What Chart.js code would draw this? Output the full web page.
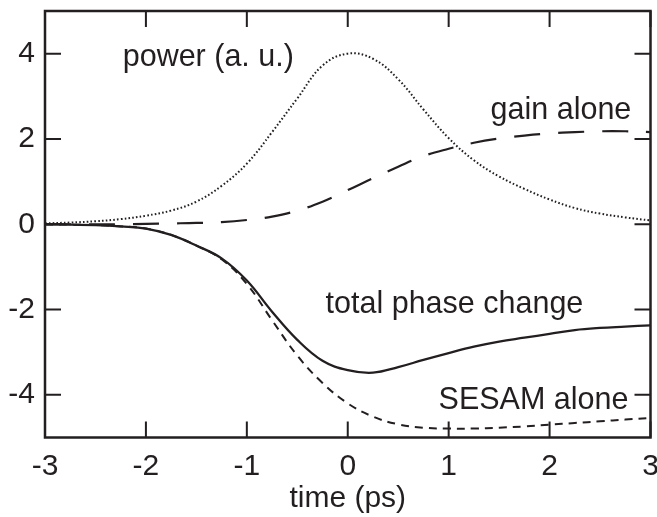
<!DOCTYPE html>
<html>
<head>
<meta charset="utf-8">
<script src="https://cdn.jsdelivr.net/npm/chart.js@4/dist/chart.umd.min.js"></script>
<style>
  html, body { margin: 0; padding: 0; background: #fff; }
  #wrap { width: 657px; height: 517px; position: relative; }
</style>
</head>
<body>
<div id="wrap"><canvas id="c" width="657" height="517"></canvas></div>
<script>
// ---- data ----
const times = [-3, -2.75, -2.5, -2.25, -2, -1.75, -1.5, -1.25, -1, -0.75, -0.5, -0.25, 0, 0.25, 0.5, 0.75, 1, 1.25, 1.5, 1.75, 2, 2.25, 2.5, 2.75, 3];
const power = [0.02, 0.04, 0.07, 0.12, 0.2, 0.32, 0.53, 0.9, 1.42, 2.16, 2.95, 3.72, 4.0, 3.88, 3.4, 2.69, 2.02, 1.5, 1.12, 0.83, 0.58, 0.38, 0.25, 0.16, 0.09];
const gainAlone = [0, 0, 0, 0, 0.01, 0.02, 0.03, 0.05, 0.1, 0.18, 0.32, 0.53, 0.8, 1.08, 1.35, 1.6, 1.77, 1.91, 2.01, 2.08, 2.13, 2.16, 2.18, 2.18, 2.16];
const totalPhase = [0, -0.01, -0.02, -0.05, -0.1, -0.25, -0.5, -0.8, -1.32, -2.05, -2.71, -3.2, -3.42, -3.48, -3.35, -3.18, -3.02, -2.87, -2.75, -2.66, -2.57, -2.48, -2.43, -2.4, -2.37];
const sesamAlone = [0, -0.01, -0.02, -0.05, -0.1, -0.25, -0.5, -0.82, -1.4, -2.25, -3.08, -3.72, -4.2, -4.51, -4.69, -4.77, -4.79, -4.79, -4.77, -4.74, -4.7, -4.66, -4.62, -4.58, -4.54];
const xTicks = [-3, -2, -1, 0, 1, 2, 3];
const yTicks = [-4, -2, 0, 2, 4];
const labels = ["power (a. u.)", "gain alone", "total phase change", "SESAM alone"];
const labelAt = [[-2.23, 3.71], [1.415, 2.46], [-0.22, -2.08], [0.9, -4.33]];

const INK = '#231f20';
const FONT = 'Liberation Sans, Arial, Helvetica, sans-serif';

function pts(vals) { return times.map((t, i) => ({ x: t, y: vals[i] })); }

const framePlugin = {
  id: 'frame',
  afterDatasetsDraw(chart) {
    const { ctx, chartArea: a, scales: { x, y } } = chart;
    ctx.save();
    ctx.strokeStyle = INK;
    ctx.lineWidth = 2.5;
    ctx.strokeRect(a.left, a.top, a.right - a.left, a.bottom - a.top);
    ctx.lineWidth = 2;
    const tl = 16;
    ctx.beginPath();
    xTicks.forEach(v => {
      const px = x.getPixelForValue(v);
      ctx.moveTo(px, a.bottom); ctx.lineTo(px, a.bottom - tl);
      ctx.moveTo(px, a.top); ctx.lineTo(px, a.top + tl);
    });
    yTicks.forEach(v => {
      const py = y.getPixelForValue(v);
      ctx.moveTo(a.left, py); ctx.lineTo(a.left + tl, py);
      ctx.moveTo(a.right, py); ctx.lineTo(a.right - tl, py);
    });
    ctx.stroke();
    // annotations
    ctx.fillStyle = INK;
    ctx.font = '30.5px ' + FONT;
    ctx.textAlign = 'left';
    ctx.textBaseline = 'alphabetic';
    labels.forEach((s, i) => {
      ctx.fillText(s, x.getPixelForValue(labelAt[i][0]), y.getPixelForValue(labelAt[i][1]));
    });
    ctx.restore();
  }
};

new Chart(document.getElementById('c'), {
  type: 'line',
  data: {
    datasets: [
      { label: 'power (a. u.)', data: pts(power), borderColor: INK, borderWidth: 2, borderDash: [1.6, 2.2] },
      { label: 'gain alone', data: pts(gainAlone), borderColor: INK, borderWidth: 2.2, borderDash: [26, 18] },
      { label: 'total phase change', data: pts(totalPhase), borderColor: INK, borderWidth: 2.3 },
      { label: 'SESAM alone', data: pts(sesamAlone), borderColor: INK, borderWidth: 2, borderDash: [8, 6] }
    ]
  },
  options: {
    responsive: false,
    animation: false,
    events: [],
    layout: { padding: { top: 11, right: 6.5, left: 0, bottom: 0 } },
    elements: { point: { radius: 0 }, line: { tension: 0.4, fill: false } },
    plugins: { legend: { display: false }, tooltip: { enabled: false } },
    scales: {
      x: {
        type: 'linear', min: -3, max: 3,
        afterBuildTicks: s => { s.ticks = xTicks.map(v => ({ value: v })); },
        afterFit: s => { s.height = 79.5; s.paddingLeft = 0; s.paddingRight = 0; },
        grid: { display: false, drawTicks: false },
        border: { display: false },
        ticks: { color: INK, font: { family: FONT, size: 30 }, padding: 11, maxRotation: 0, autoSkip: false, callback: v => String(v) },
        title: { display: true, text: 'time (ps)', color: INK, font: { family: FONT, size: 30 }, padding: { top: 0, bottom: 0 } }
      },
      y: {
        type: 'linear', min: -5, max: 5,
        afterBuildTicks: s => { s.ticks = yTicks.map(v => ({ value: v })); },
        afterFit: s => { s.width = 45; s.paddingTop = 0; s.paddingBottom = 0; },
        grid: { display: false, drawTicks: false },
        border: { display: false },
        ticks: { color: INK, font: { family: FONT, size: 30 }, padding: 10, autoSkip: false, callback: v => String(v) }
      }
    }
  },
  plugins: [framePlugin]
});
</script>
</body>
</html>
